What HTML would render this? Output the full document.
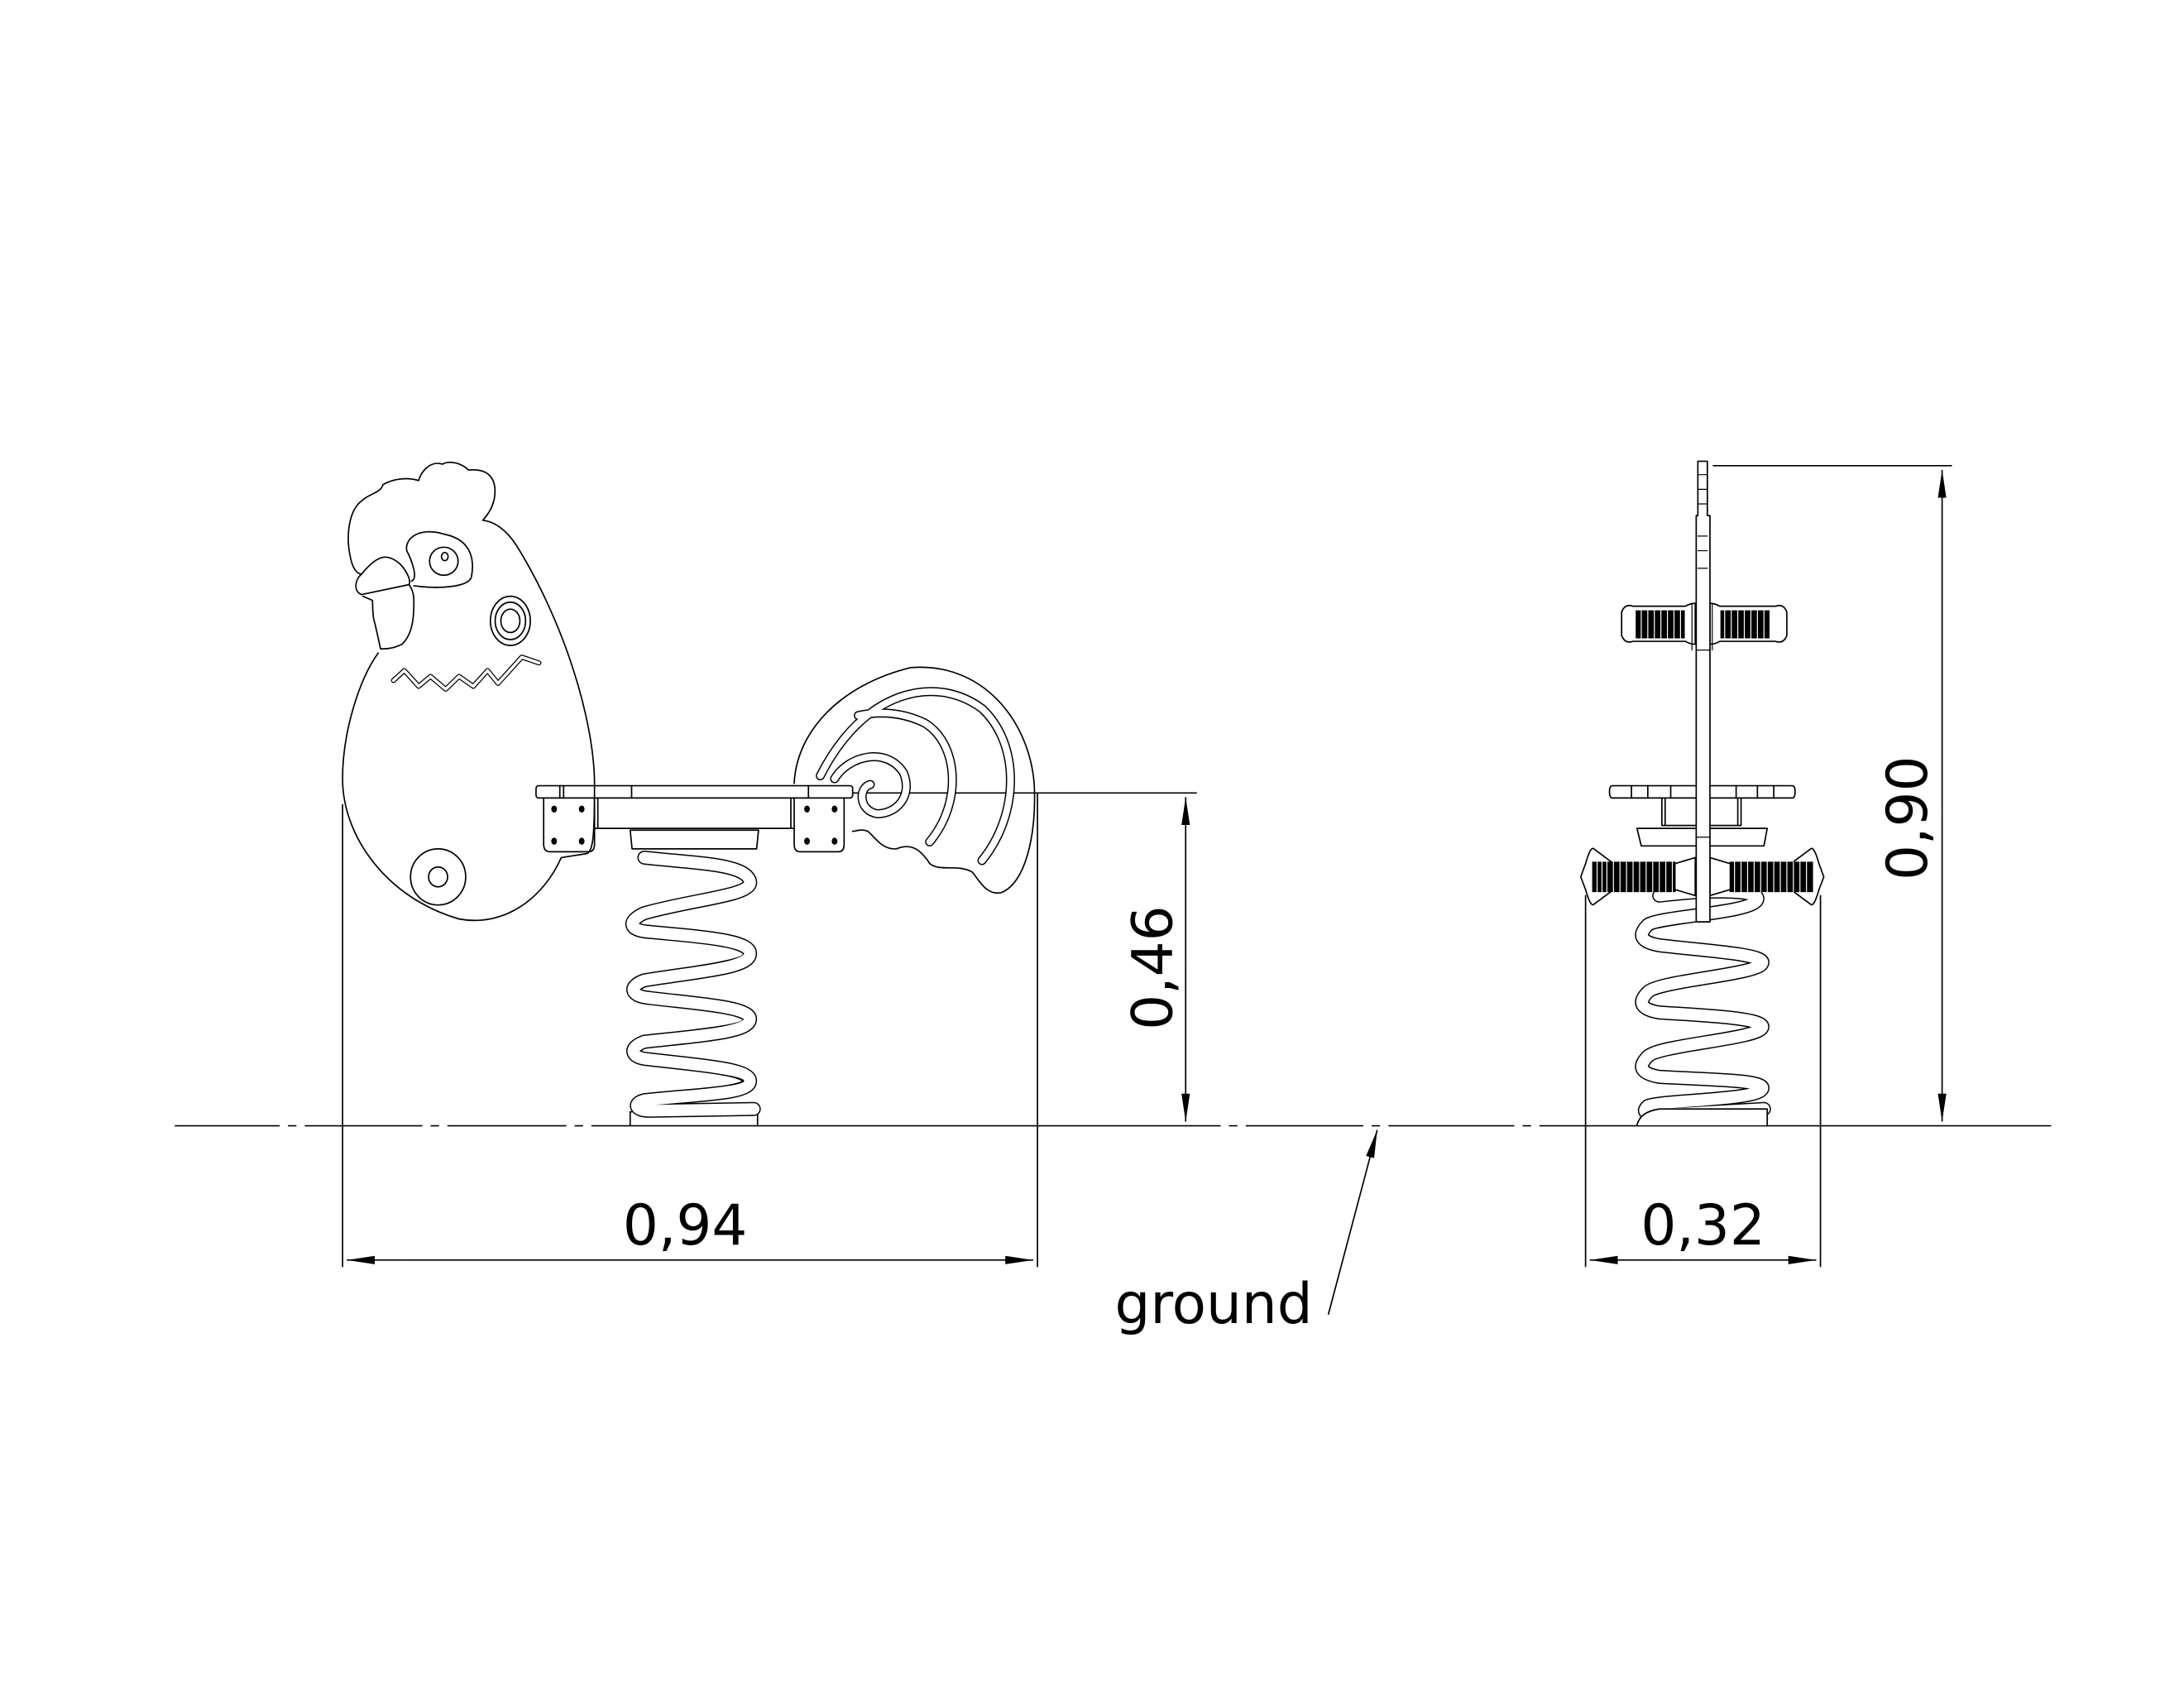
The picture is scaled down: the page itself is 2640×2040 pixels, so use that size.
<!DOCTYPE html>
<html><head><meta charset="utf-8"><style>html,body{margin:0;padding:0;background:#fff}svg{display:block}</style></head>
<body>
<svg width="2640" height="2040" viewBox="0 0 1562 1207" xmlns="http://www.w3.org/2000/svg">
<defs>
<marker id="ar" viewBox="0 0 20 8" refX="20" refY="4" markerWidth="20" markerHeight="8" orient="auto" markerUnits="userSpaceOnUse"><path d="M0,1 L20,4 L0,7 Z" fill="#000"/></marker>
</defs>
<g fill="none" stroke="#000" stroke-width="1">
<!-- ground -->
<path d="M125,805 H200 M206,805 H212 M218,805 H302 M308,805 H314 M320,805 H405 M411,805 H417 M423,805 H873 M879,805 H885 M891,805 H975 M981,805 H987 M993,805 H1083 M1089,805 H1095 M1101,805 H1467"/>
<!-- 0,94 -->
<path d="M245,575 V906 M742,567 V906"/>
<path d="M290,901 H248" marker-end="url(#ar)"/><path d="M290,901 H739" marker-end="url(#ar)"/>
<!-- 0,46 -->
<path d="M610,567 H856 M848,690 V570" marker-end="url(#ar)"/><path d="M848,690 V802" marker-end="url(#ar)"/>
<!-- 0,32 -->
<path d="M1134,640 V906 M1302,640 V906"/>
<path d="M1200,901 H1137" marker-end="url(#ar)"/><path d="M1200,901 H1299" marker-end="url(#ar)"/>
<!-- 0,90 -->
<path d="M1225,333 H1396"/>
<path d="M1389,580 V336" marker-end="url(#ar)"/><path d="M1389,580 V802" marker-end="url(#ar)"/>
<!-- ground leader -->
<path d="M950,940 L985,808" marker-end="url(#ar)"/>
</g>
<g font-family="'DejaVu Sans','Liberation Sans',sans-serif" font-size="40" fill="#000">
<text x="490" y="890" text-anchor="middle">0,94</text>
<text x="1218" y="890" text-anchor="middle">0,32</text>
<text x="868" y="946" text-anchor="middle">ground</text>
<text transform="translate(838,692) rotate(-90)" text-anchor="middle">0,46</text>
<text transform="translate(1378,585) rotate(-90)" text-anchor="middle">0,90</text>
</g>

<!-- side view -->
<g transform="matrix(0.340,0,0,0.418,226.3,306)" fill="none" stroke="#000" stroke-width="1.7" stroke-linejoin="round" stroke-linecap="round">
<path vector-effect="non-scaling-stroke" d="M130,385 C90,430 55,520 55,600 C55,700 150,805 300,840 C400,855 480,800 515,735 L570,728 C582,720 585,700 585,610 C585,500 520,330 420,200 C400,175 375,160 350,158 C370,140 378,120 375,100 C370,75 345,70 320,72 C305,60 280,55 265,62 C240,55 220,75 215,90 C195,85 165,85 140,97 C135,112 110,112 95,125 C70,140 62,180 70,215 C75,240 85,250 95,250"/>
<path vector-effect="non-scaling-stroke" d="M95,250 C80,260 78,280 95,285 L195,268 C200,258 185,240 175,232 C150,215 130,215 95,250"/>
<path vector-effect="non-scaling-stroke" d="M195,268 C205,280 205,290 205,300 C205,330 200,355 180,370 C160,378 145,378 135,378 C130,360 125,340 120,325 C118,310 118,300 118,295 L98,288"/>
<path vector-effect="non-scaling-stroke" d="M200,262 C215,258 200,225 190,210 C185,190 215,168 270,182 C330,192 332,230 326,255 C320,272 260,276 205,270"/>
<ellipse vector-effect="non-scaling-stroke" cx="268" cy="228" rx="30" ry="24"/>
<ellipse vector-effect="non-scaling-stroke" cx="270" cy="220" rx="7" ry="7"/>
<circle vector-effect="non-scaling-stroke" cx="408" cy="330" r="42"/>
<circle vector-effect="non-scaling-stroke" cx="408" cy="330" r="32"/>
<circle vector-effect="non-scaling-stroke" cx="408" cy="330" r="20"/>
<ellipse vector-effect="non-scaling-stroke" cx="256" cy="768" rx="58" ry="48"/>
<ellipse vector-effect="non-scaling-stroke" cx="256" cy="768" rx="20" ry="17"/>
<rect vector-effect="non-scaling-stroke" x="462" y="612" width="666" height="21" rx="5"/>
<path vector-effect="non-scaling-stroke" d="M478,633 V712 Q478,725 492,725 H572 Q585,725 585,712 V633 M1005,633 V712 Q1005,725 1018,725 H1098 Q1110,725 1110,712 V633 M585,685 H1005 M592,633 V685 M998,633 V685 M512,612 V633 M520,612 V633 M663,612 V633 M1035,612 V633 M660,688 H930 L926,720 H664 Z"/>
<g fill="#000" stroke="none">
<circle cx="500" cy="652" r="6"/><circle cx="558" cy="652" r="6"/><circle cx="500" cy="707" r="6"/><circle cx="558" cy="707" r="6"/>
<circle cx="1032" cy="652" r="6"/><circle cx="1090" cy="652" r="6"/><circle cx="1032" cy="707" r="6"/><circle cx="1090" cy="707" r="6"/>
</g>
<path vector-effect="non-scaling-stroke" d="M660,1193 V1170 Q800,1155 928,1162 V1193"/>
<path vector-effect="non-scaling-stroke" d="M1005,608 C1010,520 1100,440 1250,410 C1400,400 1500,500 1510,610 C1515,700 1490,780 1440,795 C1410,800 1395,775 1380,760 C1350,745 1310,760 1290,745 C1270,720 1250,710 1220,720 C1190,722 1175,700 1160,690 C1145,685 1135,690 1128,690"/>
</g>
<g transform="matrix(0.340,0,0,0.418,226.3,306)" fill="none" stroke-linejoin="round" stroke-linecap="round">
<g stroke="#000" stroke-width="6">
<path vector-effect="non-scaling-stroke" d="M162,432 L185,415 L215,442 L240,425 L272,447 L300,425 L330,442 L360,415 L382,437 L432,392 L468,402"/>
<path vector-effect="non-scaling-stroke" stroke-width="11" d="M1400,740 C1480,660 1480,540 1400,480 C1300,420 1150,450 1060,595"/>
<path vector-effect="non-scaling-stroke" stroke-width="11" d="M1290,708 C1360,640 1350,540 1280,505 C1230,485 1180,485 1140,492"/>
<path vector-effect="non-scaling-stroke" stroke-width="11" d="M1090,600 C1120,560 1200,545 1235,590 C1255,630 1220,660 1180,660 C1140,655 1140,615 1165,610"/>
<path vector-effect="non-scaling-stroke" stroke-width="17" d="M690,735 C800,745 900,745 912,775 C920,800 800,805 690,830 C650,845 660,860 700,862 C800,870 915,875 912,900 C910,925 800,930 690,945 C655,955 660,972 700,975 C800,985 915,990 912,1012 C910,1035 800,1040 690,1050 C655,1060 660,1078 700,1080 C800,1090 915,1095 912,1118 C910,1140 800,1140 690,1150 C665,1155 670,1168 700,1168 L920,1165"/>
</g>
<g stroke="#fff" stroke-width="3.5">
<path vector-effect="non-scaling-stroke" d="M162,432 L185,415 L215,442 L240,425 L272,447 L300,425 L330,442 L360,415 L382,437 L432,392 L468,402"/>
<path vector-effect="non-scaling-stroke" stroke-width="8" d="M1400,740 C1480,660 1480,540 1400,480 C1300,420 1150,450 1060,595"/>
<path vector-effect="non-scaling-stroke" stroke-width="8" d="M1290,708 C1360,640 1350,540 1280,505 C1230,485 1180,485 1140,492"/>
<path vector-effect="non-scaling-stroke" stroke-width="8" d="M1090,600 C1120,560 1200,545 1235,590 C1255,630 1220,660 1180,660 C1140,655 1140,615 1165,610"/>
<path vector-effect="non-scaling-stroke" stroke-width="14" d="M690,735 C800,745 900,745 912,775 C920,800 800,805 690,830 C650,845 660,860 700,862 C800,870 915,875 912,900 C910,925 800,930 690,945 C655,955 660,972 700,975 C800,985 915,990 912,1012 C910,1035 800,1040 690,1050 C655,1060 660,1078 700,1080 C800,1090 915,1095 912,1118 C910,1140 800,1140 690,1150 C665,1155 670,1168 700,1168 L920,1165"/>
</g>
</g>

<!-- front view -->
<g transform="matrix(0.234,0,0,0.418,1116.5,306)" fill="none" stroke-linejoin="round" stroke-linecap="round">
<g stroke="#000" stroke-width="17">
<path vector-effect="non-scaling-stroke" d="M300,800 C450,790 600,790 600,805 C600,830 300,835 265,850 C230,870 250,880 300,885 C450,895 620,900 615,915 C610,935 300,945 265,965 C230,985 250,995 300,1000 C450,1005 620,1010 615,1025 C610,1045 300,1055 265,1075 C230,1095 250,1105 300,1110 C450,1115 620,1115 615,1130 C610,1150 300,1150 265,1160 C245,1170 260,1175 300,1175 L620,1165"/>
</g>
<g stroke="#fff" stroke-width="14">
<path vector-effect="non-scaling-stroke" d="M300,800 C450,790 600,790 600,805 C600,830 300,835 265,850 C230,870 250,880 300,885 C450,895 620,900 615,915 C610,935 300,945 265,965 C230,985 250,995 300,1000 C450,1005 620,1010 615,1025 C610,1045 300,1055 265,1075 C230,1095 250,1105 300,1110 C450,1115 620,1115 615,1130 C610,1150 300,1150 265,1160 C245,1170 260,1175 300,1175 L620,1165"/>
</g>
<g stroke="#000" stroke-width="1.7" fill="#fff">
<path vector-effect="non-scaling-stroke" d="M232,1193 Q240,1170 300,1165 H630 V1193"/>
<rect vector-effect="non-scaling-stroke" x="148" y="612" width="567" height="21" rx="8"/>
<path vector-effect="non-scaling-stroke" fill="none" d="M215,612 V633 M265,612 V633 M335,612 V633 M535,612 V633 M600,612 V633 M650,612 V633 M308,633 V680 H550 V633 M318,633 V680 M540,633 V680"/>
<path vector-effect="non-scaling-stroke" d="M232,685 H630 L620,715 H245 Z"/>
<path vector-effect="non-scaling-stroke" d="M60,768 L75,745 Q90,715 100,720 L160,745 H350 Q380,740 410,735 V800 Q380,795 350,790 H160 L100,815 Q90,820 75,790 Z"/>
<path vector-effect="non-scaling-stroke" d="M803,768 L788,745 Q773,715 763,720 L703,745 H515 Q485,740 455,735 V800 Q485,795 515,790 H703 L763,815 Q773,820 788,790 Z"/>
<path vector-effect="non-scaling-stroke" d="M185,335 V315 Q195,300 220,305 H380 Q395,300 410,300 V370 Q395,370 380,365 H220 Q195,370 185,355 Z"/>
<path vector-effect="non-scaling-stroke" d="M690,335 V315 Q680,300 655,305 H485 Q470,300 455,300 V370 Q470,370 485,365 H655 Q680,370 690,355 Z"/>
<path vector-effect="non-scaling-stroke" d="M418,57 H447 V150 H455 V845 H413 V150 H418 Z"/>
</g>
<g fill="#000">
<rect x="95" y="742" width="255" height="52"/>
<rect x="515" y="742" width="255" height="52"/>
<rect x="228" y="312" width="150" height="48"/>
<rect x="487" y="312" width="150" height="48"/>
</g>
<g stroke="#fff" stroke-width="1.2">
<path vector-effect="non-scaling-stroke" d="M110,742V794M125,742V794M140,742V794M160,742V794M180,742V794M200,742V794M220,742V794M240,742V794M260,742V794M280,742V794M300,742V794M320,742V794M340,742V794M530,742V794M550,742V794M570,742V794M590,742V794M610,742V794M630,742V794M650,742V794M670,742V794M690,742V794M710,742V794M730,742V794M750,742V794M245,312V360M265,312V360M285,312V360M305,312V360M325,312V360M345,312V360M365,312V360M500,312V360M520,312V360M540,312V360M560,312V360M580,312V360M600,312V360M620,312V360"/>
</g>
<g stroke="#000" stroke-width="1.2">
<path vector-effect="non-scaling-stroke" d="M418,80H447M418,105H447M418,130H447M418,185H447M418,210H447M418,240H447M413,380H455M413,700H455M400,300V380M462,300V380"/>
</g>
</g>
</svg>
</body></html>
